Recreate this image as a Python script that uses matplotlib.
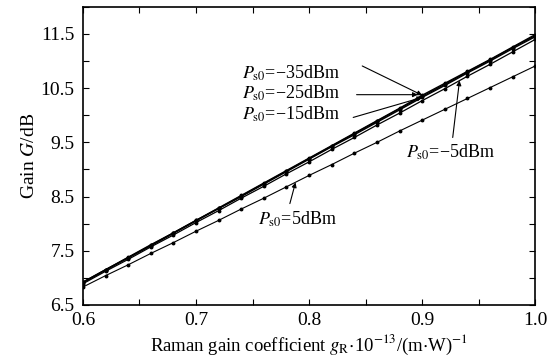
import matplotlib
matplotlib.use("Agg")
import matplotlib.pyplot as plt
import numpy as np
from matplotlib.ticker import MultipleLocator

plt.rcParams['font.family'] = ['Liberation Serif', 'DejaVu Serif']
plt.rcParams['mathtext.fontset'] = 'stix'

# Raman gain coefficient (x 1e-13 m/W)
g_r = [0.60, 0.62, 0.64, 0.66, 0.68, 0.70, 0.72, 0.74, 0.76, 0.78, 0.80,
       0.82, 0.84, 0.86, 0.88, 0.90, 0.92, 0.94, 0.96, 0.98, 1.00]

# gain G (dB) for each input signal power
gain_m35 = [6.92, 7.15, 7.38, 7.61, 7.83, 8.06, 8.29, 8.52, 8.75, 8.98, 9.21,
            9.44, 9.67, 9.90, 10.13, 10.37, 10.59, 10.81, 11.03, 11.26, 11.49]
gain_m25 = [6.92, 7.15, 7.37, 7.60, 7.83, 8.06, 8.28, 8.51, 8.74, 8.97, 9.20,
            9.43, 9.66, 9.89, 10.12, 10.35, 10.57, 10.80, 11.02, 11.25, 11.47]
gain_m15 = [6.91, 7.14, 7.37, 7.59, 7.82, 8.05, 8.28, 8.50, 8.73, 8.96, 9.19,
            9.42, 9.64, 9.87, 10.10, 10.33, 10.55, 10.78, 11.00, 11.23, 11.45]
gain_m5 = [6.89, 7.12, 7.34, 7.57, 7.79, 8.02, 8.24, 8.47, 8.69, 8.92, 9.14,
           9.37, 9.59, 9.82, 10.04, 10.27, 10.49, 10.72, 10.94, 11.17, 11.40]
gain_p5 = [6.83, 7.04, 7.24, 7.45, 7.65, 7.86, 8.06, 8.27, 8.47, 8.68, 8.89,
           9.09, 9.30, 9.50, 9.71, 9.91, 10.11, 10.31, 10.51, 10.71, 10.91]

fig = plt.figure(figsize=(5.49, 3.63), dpi=100)
ax = fig.add_axes([0.151, 0.160, 0.824, 0.821])

for g, lw in [(gain_m35, 1.0), (gain_m25, 1.0), (gain_m15, 1.0),
              (gain_m5, 0.9), (gain_p5, 0.8)]:
    ax.plot(g_r, g, color='black', lw=lw, marker='o', ms=1.8)

ax.set_xlim(0.6, 1.0)
ax.set_ylim(6.5, 12.0)
ax.xaxis.set_major_locator(MultipleLocator(0.1))
ax.xaxis.set_minor_locator(MultipleLocator(0.05))
ax.set_yticks(np.arange(6.5, 11.6, 1.0))
ax.yaxis.set_minor_locator(MultipleLocator(0.5))
ax.xaxis.set_major_formatter(plt.FuncFormatter(lambda v, p: f'{v:.1f}'))
ax.tick_params(which='both', direction='in', top=True, right=True,
               length=4, width=0.8, labelsize=14)
ax.tick_params(axis='x', pad=5)
ax.tick_params(axis='y', pad=6)
for s in ax.spines.values():
    s.set_linewidth(1.2)

ax.set_ylabel(r'Gain $G$/dB', fontsize=14, labelpad=2)
ax.set_xlabel(r'Raman gain coefficient $g_{\rm R}$$\cdot$10$^{-13}$/(m$\cdot$W)$^{-1}$',
              fontsize=13.5, labelpad=3)

# power labels
lab_kw = dict(fontsize=13, va='center', ha='left')
ax.text(0.741, 10.78, r'$P_{\rm s0}$=−35dBm', **lab_kw)
ax.text(0.741, 10.40, r'$P_{\rm s0}$=−25dBm', **lab_kw)
ax.text(0.741, 10.01, r'$P_{\rm s0}$=−15dBm', **lab_kw)
ax.text(0.886, 9.31, r'$P_{\rm s0}$=−5dBm', **lab_kw)
ax.text(0.755, 8.08, r'$P_{\rm s0}$=5dBm', **lab_kw)

arr = dict(arrowstyle='-|>', color='black', lw=0.8,
           mutation_scale=7, shrinkA=0, shrinkB=0)
ax.annotate('', xy=(g_r[15], gain_m35[15]), xytext=(0.847, 10.91), arrowprops=arr)
ax.annotate('', xy=(0.896, 10.38), xytext=(0.842, 10.38), arrowprops=arr)
ax.annotate('', xy=(g_r[15], gain_m15[15]), xytext=(0.839, 9.96), arrowprops=arr)
ax.annotate('', xy=(0.933, 10.64), xytext=(0.927, 9.59), arrowprops=arr)
ax.annotate('', xy=(0.788, 8.76), xytext=(0.783, 8.37), arrowprops=arr)

fig.savefig('out.png', dpi=100)
